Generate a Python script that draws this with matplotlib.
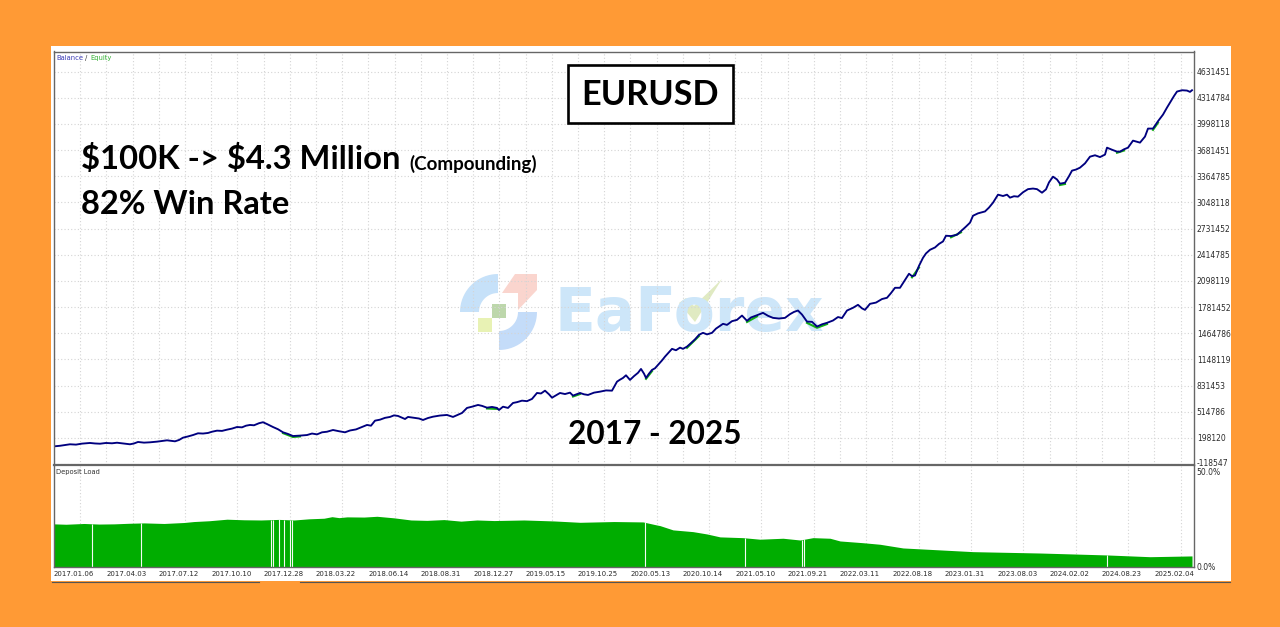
import numpy as np
import matplotlib
matplotlib.use('Agg')
import matplotlib.pyplot as plt
import matplotlib.patches as patches
from matplotlib.transforms import ScaledTranslation

W, H = 1280, 627
nan = float('nan')

# (trade number, balance in thousands)
balance_pts = [(0,95),(6,102),(12,112),(16,120),(22,116),(28,128),(36,136),(41,130),(46,127),(52,136),(58,132),(63,139),
    (69,130),(76,120),(80,130),(84,148),(90,140),(96,144),(103,152),(108,160),(113,168),(117,162),(121,156),(125,172),
    (129,200),(134,215),(139,232),(144,253),(149,250),(154,257),(158,272),(163,285),(168,282),(173,297),(178,310),(183,329),
    (188,325),(192,345),(196,354),(200,350),(205,375),(209,387),(213,365),(219,329),(224,302),(229,265),(234,245),(239,220),
    (246,225),(253,232),(258,250),(263,240),(268,265),(273,272),(279,293),(285,278),(291,265),(296,287),(302,300),(308,330),
    (313,354),(317,345),(321,406),(326,418),(331,440),(336,451),(340,470),(344,463),(351,426),(354,451),(360,440),(365,432),
    (369,414),(374,438),(379,454),(386,468),(393,475),(399,451),(404,478),(408,499),(413,560),(418,575),(424,596),(428,585),
    (433,563),(438,572),(443,560),(445,535),(449,575),(454,560),(459,620),(463,630),(468,648),(473,642),(478,669),(483,741),
    (487,735),(491,769),(495,725),(498,684),(502,712),(506,741),(511,728),(516,745),(519,709),(526,741),(530,725),(534,717),
    (540,745),(546,757),(552,772),(558,769),(563,878),(566,902),(569,923),(572,955),(576,899),(580,945),(584,985),(587,1032),
    (590,975),(592,923),(595,975),(598,1020),(601,1040),(604,1081),(608,1135),(611,1181),(615,1235),(618,1275),(622,1258),(626,1290),
    (629,1275),(633,1302),(637,1345),(641,1390),(645,1445),(649,1469),(653,1450),(658,1469),(662,1520),(665,1545),(669,1578),(673,1565),
    (678,1610),(683,1626),(688,1678),(693,1614),(697,1655),(703,1682),(709,1711),(714,1675),(719,1650),(725,1642),(731,1650),(736,1695),
    (740,1722),(744,1739),(748,1690),(753,1605),(758,1602),(763,1545),(768,1572),(773,1590),(779,1618),(784,1660),(788,1648),(793,1739),
    (799,1772),(804,1808),(808,1765),(811,1747),(816,1820),(822,1835),(828,1878),(833,1893),(837,1950),(841,2014),(846,2014),(850,2090),
    (855,2184),(858,2155),(861,2163),(865,2280),(869,2377),(872,2430),(876,2474),(881,2502),(885,2545),(889,2575),(892,2644),(897,2640),
    (903,2656),(907,2700),(912,2755),(916,2802),(919,2886),(924,2915),(931,2938),(935,2985),(939,3044),(944,3141),(949,3125),(953,3141),
    (956,3105),(960,3122),(964,3117),(969,3170),(974,3208),(979,3215),(983,3208),(988,3165),(992,3205),(995,3290),(999,3359),(1003,3325),
    (1006,3274),(1011,3285),(1015,3365),(1018,3432),(1022,3445),(1026,3468),(1031,3520),(1036,3601),(1041,3618),(1046,3596),(1051,3626),(1053,3710),
    (1058,3685),(1063,3662),(1066,3662),(1070,3690),(1074,3710),(1079,3795),(1083,3782),(1086,3771),(1091,3844),(1094,3941),(1099,3941),(1104,4030),
    (1109,4110),(1113,4195),(1116,4256),(1120,4335),(1123,4389),(1128,4405),(1133,4401),(1136,4385),(1138,4405)]
trade, balance = zip(*balance_pts)

# equity only shows where it dips under the balance
equity_pts = [(229,255),(239,208),(246,215),(nan,nan),(433,553),(443,548),(nan,nan),(519,698),(526,728),(nan,nan),
    (592,912),(598,1005),(nan,nan),(633,1288),(645,1430),(nan,nan),(693,1600),(703,1668),(nan,nan),(753,1590),(763,1530),(773,1575),(nan,nan),
    (858,2140),(865,2260),(nan,nan),(897,2625),(907,2685),(nan,nan),(1006,3258),(1011,3270),(nan,nan),(1063,3648),(1070,3675),(nan,nan),
    (1099,3925),(1104,4012)]
eq_trade, equity = zip(*equity_pts)

load_pts = [(0,22.2),(12,22.0),(30,22.4),(45,22.1),(60,22.2),(75,22.5),(90,22.7),(110,22.4),(130,22.9),(140,23.4),(155,23.8),(173,24.6),
    (190,24.3),(207,24.2),(225,24.5),(240,24.2),(255,24.8),(270,25.1),(278,25.9),(285,25.4),(293,25.8),(310,25.7),(323,26.1),(340,25.3),
    (357,24.2),(373,24.0),(390,24.4),(407,23.6),(423,24.2),(440,23.9),(470,24.2),(500,23.7),(526,23.0),(560,23.4),(589,23.2),(603,21.6),
    (606,21.3),(619,19.1),(639,18.2),(653,17.0),(666,15.5),(689,15.1),(706,14.3),(729,14.8),(746,13.9),(759,15.1),(776,14.8),(786,13.4),
    (809,12.5),(826,11.7),(849,9.8),(886,8.8),(919,7.9),(986,7.2),(1053,6.2),(1096,5.3),(1138,5.7)]
load_trade, load = zip(*load_pts)
load_gaps = [38,87,217,219,225,230,236,238,591,691,748,750,1053]

date_labels = ['2017.01.06','2017.04.03','2017.07.12','2017.10.10','2017.12.28','2018.03.22','2018.06.14',
               '2018.08.31','2018.12.27','2019.05.15','2019.10.25','2020.05.13','2020.10.14','2021.05.10',
               '2021.09.21','2022.03.11','2022.08.18','2023.01.31','2023.08.03','2024.02.02','2024.08.23','2025.02.04']
price_ticks = [4631451,4314784,3998118,3681451,3364785,3048118,2731452,2414785,2098119,1781452,
               1464786,1148119,831453,514786,198120,-118547]
load_ticks = [0, 50]
load_tick_labels = ['0.0%', '50.0%']

def rect(left, top, right, bottom):
    return [left/W, 1-bottom/H, (right-left)/W, (bottom-top)/H]

fig = plt.figure(figsize=(W/100, H/100), dpi=100, facecolor='#FF9A35')

# white panel and washed out logo sit under the axes
bg = fig.add_axes([0, 0, 1, 1], zorder=1)
bg.set_xlim(0, W)
bg.set_ylim(H, 0)
bg.axis('off')
bg.add_patch(patches.Rectangle((51, 46), 1179.5, 535, fc='white', ec='none'))
bg.plot([52, 259], [581.5, 581.5], color='#555555', lw=0.8)
bg.plot([300, 1230], [581.5, 581.5], color='#555555', lw=0.8)

t = np.radians(np.linspace(180, 270, 20))
arc = np.c_[498+38*np.cos(t), 312+38*np.sin(t)]
inner = np.c_[498+19*np.cos(t[::-1]), 312+19*np.sin(t[::-1])]
bg.add_patch(patches.Polygon(np.r_[arc, inner], fc='#c6e1f9', ec='none'))
t = np.radians(np.linspace(0, 90, 20))
arc = np.c_[499+38*np.cos(t), 312+38*np.sin(t)]
inner = np.c_[499+19*np.cos(t[::-1]), 312+19*np.sin(t[::-1])]
bg.add_patch(patches.Polygon(np.r_[arc, inner], fc='#c4dcf9', ec='none'))
bg.add_patch(patches.Polygon([(502,293),(518,293),(518,310),(537,290),(537,274),(515,274)], fc='#fad5ce', ec='none'))
bg.add_patch(patches.Rectangle((492, 304), 14, 14, fc='#bdd7ab', ec='none'))
bg.add_patch(patches.Rectangle((478, 318), 14, 14, fc='#e8f2b4', ec='none'))
bg.text(555, 315, 'EaForex', fontsize=43, fontweight='bold', family='DejaVu Sans', color='#cde6f9', va='center', ha='left')
bg.add_patch(patches.Polygon([(679,303),(686,298),(694,306),(722,279),(695,322)], fc='#e0eac2', ec='none'))

# balance / equity
ax = fig.add_axes(rect(54, 51.5, 1194, 465), zorder=2)
ax.patch.set_alpha(0)
ax.set_xlim(0, 1140)
ax.set_ylim(-118547-12118, 4631451+20*12118)
ax.plot(eq_trade, np.array(equity)*1000, color='#12b012', lw=1.5)
ax.plot(trade, np.array(balance)*1000, color='#00007f', lw=1.35)
ax.set_yticks(price_ticks)
ax.set_yticklabels([str(v) for v in price_ticks])

# deposit load
ax2 = fig.add_axes(rect(54, 465, 1194, 567), zorder=2)
ax2.patch.set_alpha(0)
ax2.set_xlim(0, 1140)
ax2.set_ylim(0, 52.5)
ax2.fill_between(load_trade, load, color='#00AD00', lw=0)
ax2.vlines(load_gaps, 0, np.interp(load_gaps, load_trade, load), color='#f4fbf4', lw=0.8)
ax2.set_yticks(load_ticks)
ax2.set_yticklabels(load_tick_labels)

grid_x = np.arange(0, 1140, 26.2)
label_x = grid_x[::2][:len(date_labels)]
for a in (ax, ax2):
    a.yaxis.tick_right()
    a.set_xticks(grid_x, minor=True)
    a.grid(True, which='minor', axis='x', color='#d4d4d4', lw=0.8, ls=(0, (1, 2)))
    a.tick_params(axis='y', length=0, pad=2, labelsize=5.5, labelcolor='#2a2a2a')
    a.tick_params(axis='x', which='both', length=0)
    a.set_axisbelow(True)
    for s in a.spines.values():
        s.set_color('#666666')
        s.set_linewidth(1.0)
ax.grid(True, which='major', axis='y', color='#d4d4d4', lw=0.8, ls=(0, (1, 2)))
ax.set_xticks([])
ax.spines['bottom'].set_linewidth(1.6)
ax2.spines['top'].set_visible(False)
ax2.set_xticks(label_x)
ax2.set_xticklabels(date_labels, ha='left', fontsize=5.0, color='#2a2a2a')
ax2.tick_params(axis='x', which='major', pad=3)

# the last price label and 50% nearly touch, ease them apart
up = ScaledTranslation(0, 1.5/100, fig.dpi_scale_trans)
down = ScaledTranslation(0, -2/100, fig.dpi_scale_trans)
lab = ax.get_yticklabels()[-1]
lab.set_transform(lab.get_transform() + up)
lab = ax2.get_yticklabels()[-1]
lab.set_transform(lab.get_transform() + down)

# labels on top of everything
over = fig.add_axes([0, 0, 1, 1], zorder=3)
over.set_xlim(0, W)
over.set_ylim(H, 0)
over.axis('off')
over.patch.set_alpha(0)
small = dict(fontsize=4.9, va='center', ha='left')
over.text(56, 58, 'Balance', color='#3a3ab5', **small)
over.text(85, 58, '/', color='#333333', **small)
over.text(90, 58, 'Equity', color='#35b035', **small)
over.text(56, 472, 'Deposit Load', color='#333333', **small)
over.add_patch(patches.Rectangle((568, 65), 165, 58, fc='white', ec='black', lw=1.9))
big = dict(family='Lato', fontweight='bold', color='black', va='center', ha='left')
over.text(581, 95, 'EURUSD', fontsize=24.7, **big)
over.text(81, 159.5, r'\$100K -> \$4.3 Million', fontsize=23.6, **big)
over.text(409, 164, '(Compounding)', fontsize=13.5, **big)
over.text(81, 204.5, '82% Win Rate', fontsize=23.5, **big)
over.text(568, 434, '2017 - 2025', fontsize=22.7, **big)

fig.savefig('out.png', dpi=100, facecolor=fig.get_facecolor())
